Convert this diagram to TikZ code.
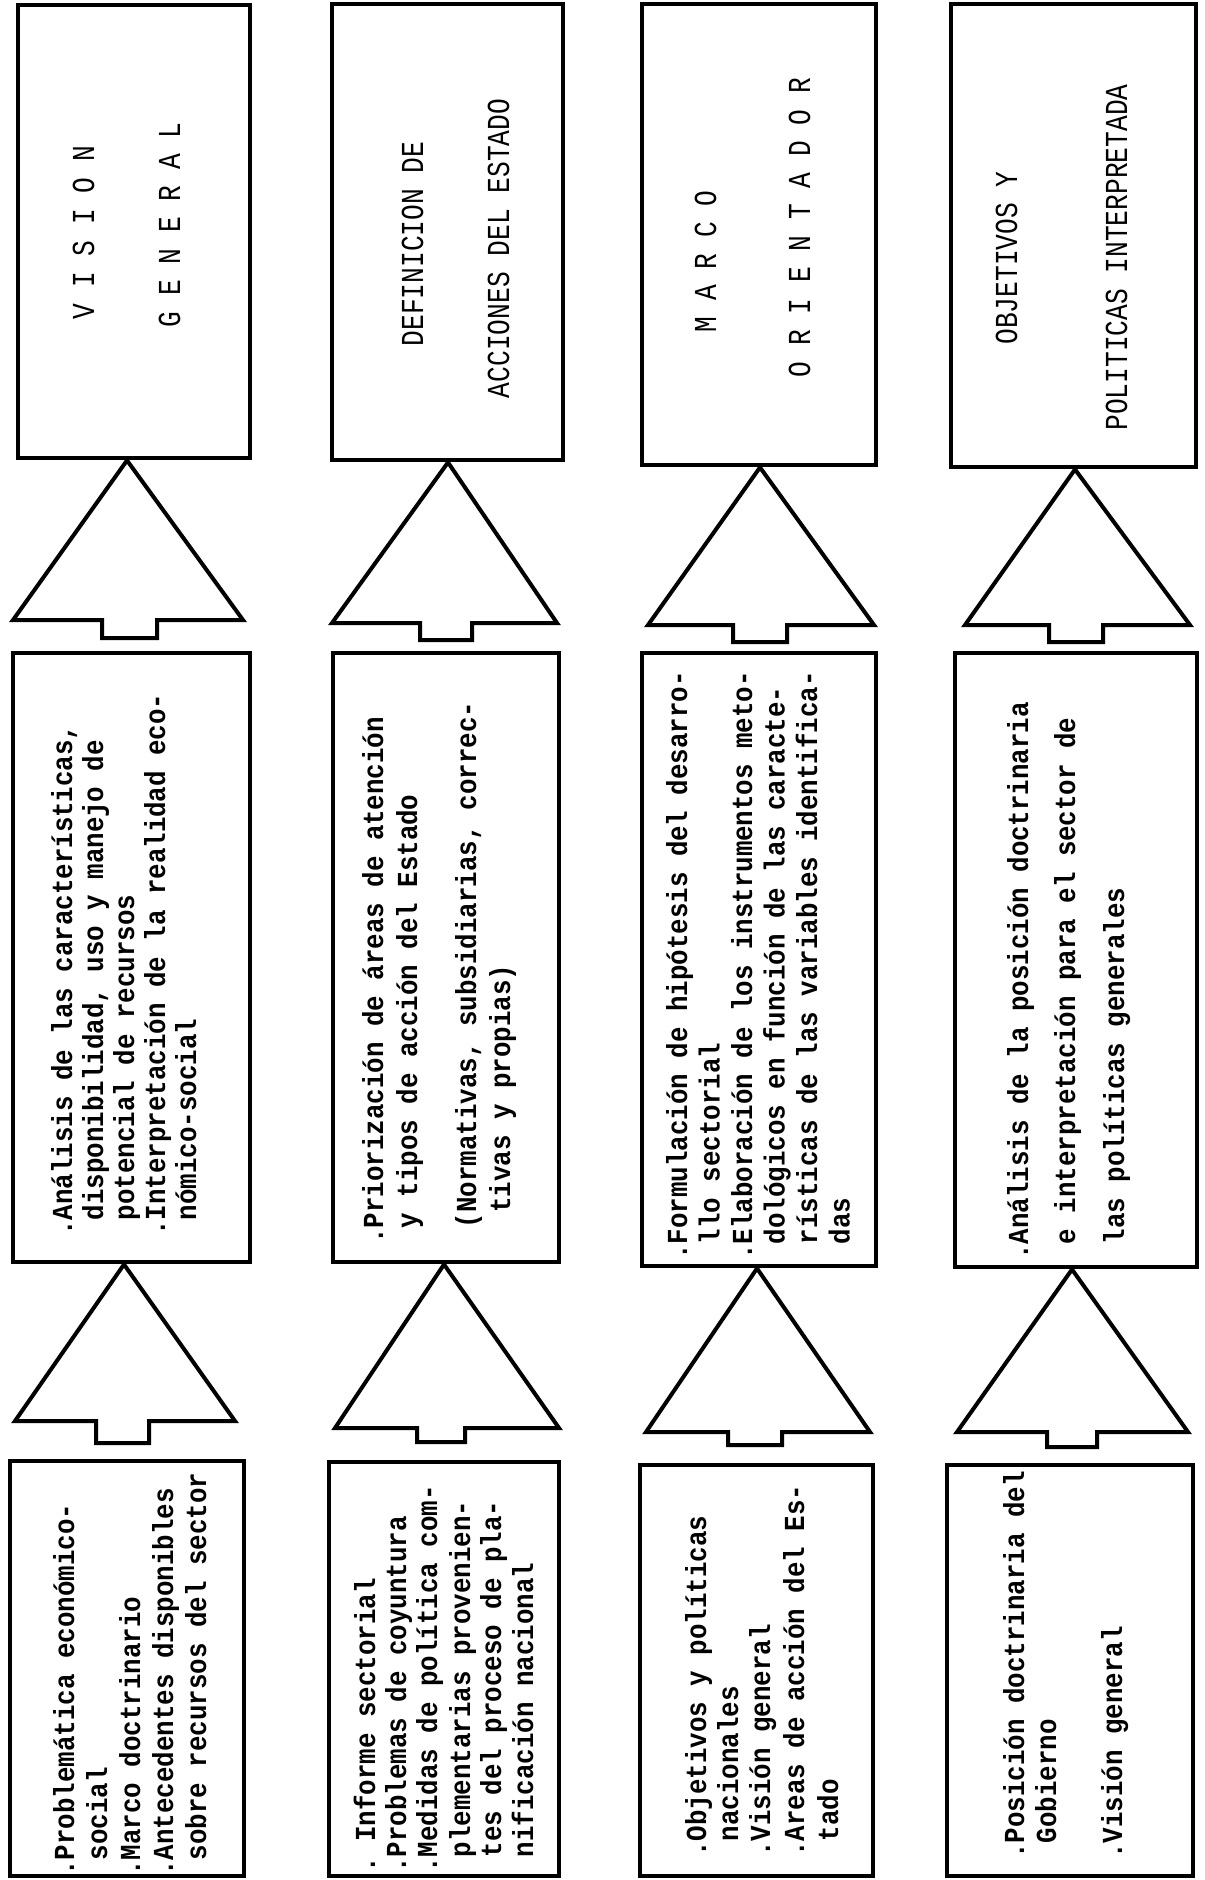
\documentclass[tikz,border=0pt]{standalone}
\usepackage{fontspec}
\usetikzlibrary{fit}
\newfontfamily\bodyfont[FakeStretch=0.89]{Liberation Mono}
\newfontfamily\titlefont[FakeStretch=0.82]{Liberation Mono}
\tikzset{
  boxnode/.style={draw, line width=2.4pt, inner sep=0pt},
  blockarrow/.style={draw, line width=2pt, line join=miter},
  bodytxt/.style={rotate=90, anchor=base west, inner sep=0pt, font=\bodyfont\bfseries\fontsize{14.5}{17}\selectfont},
  titletxt/.style={rotate=90, anchor=base, inner sep=0pt, font=\titlefont\fontsize{16}{19}\selectfont},
}
\newcommand\ind{\phantom{x}}
\newcommand\tl[4]{\node[bodytxt] (#1) at (#2,#3) {#4};}
% #1 apex x, #2 box above, #3 left, #4 right, #5 base y, #6 notch left, #7 notch right, #8 notch bottom
\newcommand\blockup[8]{\draw[blockarrow] (#1,0 |- #2.south) -- (#4,#5) -- (#7,#5) -- (#7,#8) -- (#6,#8) -- (#6,#5) -- (#3,#5) -- cycle;}
\begin{document}
\begin{tikzpicture}[x=0.5pt,y=-0.5pt]
\useasboundingbox (0,0) rectangle (1205,1880);
\fill[white] (0,0) rectangle (1205,1880);

% ---------- boxes ----------
\node[boxnode, fit={(18,5) (250,458)}] (A1) {};
\node[boxnode, fit={(13,653) (250,1262)}] (A2) {};
\node[boxnode, fit={(10,1461) (244,1876)}] (A3) {};

\node[boxnode, fit={(332,4) (563,460)}] (B1) {};
\node[boxnode, fit={(333,653) (559,1262)}] (B2) {};
\node[boxnode, fit={(329,1462) (559,1876)}] (B3) {};

\node[boxnode, fit={(642,4) (876,465)}] (C1) {};
\node[boxnode, fit={(642,653) (876,1266)}] (C2) {};
\node[boxnode, fit={(640,1465) (873,1876)}] (C3) {};

\node[boxnode, fit={(951,4) (1196,467)}] (D1) {};
\node[boxnode, fit={(955,653) (1197,1267)}] (D2) {};
\node[boxnode, fit={(947,1465) (1193,1876)}] (D3) {};

% ---------- block arrows ----------
\blockup{127}{A1}{13}{243}{620}{102}{157}{638}
\blockup{124}{A2}{15}{235}{1421}{96}{149}{1443}
\blockup{448}{B1}{332}{557}{623}{420}{472}{640}
\blockup{444}{B2}{335}{559}{1428}{417}{465}{1442}
\blockup{760}{C1}{648}{874}{625}{733}{787}{642}
\blockup{757}{C2}{646}{870}{1432}{728}{782}{1445}
\blockup{1075}{D1}{965}{1190}{625}{1049}{1103}{642}
\blockup{1072}{D2}{957}{1188}{1432}{1047}{1097}{1447}

% ---------- titles ----------
\node[titletxt] (ta1) at (94,232.5) {V I S I O N};
\node[titletxt] (ta2) at (180,225) {G E N E R A L};
\node[titletxt] (tb1) at (423,244) {DEFINICION DE};
\node[titletxt] (tb2) at (509,248.5) {ACCIONES DEL ESTADO};
\node[titletxt] (tc1) at (716,261.5) {M A R C O};
\node[titletxt] (tc2) at (810,227.5) {O R I E N T A D O R};
\node[titletxt] (td1) at (1017,258) {OBJETIVOS Y};
\node[titletxt] (td2) at (1127,257.5) {POLITICAS INTERPRETADA};

% ---------- middle boxes ----------
\tl{ma1}{72}{1236}{.Análisis de las características,}
\tl{ma2}{103}{1236}{\ind disponibilidad, uso y manejo de}
\tl{ma3}{134}{1236}{\ind potencial de recursos}
\tl{ma4}{165}{1236}{.Interpretación de la realidad eco-}
\tl{ma5}{196}{1236}{\ind nómico-social}

\tl{mb1}{383}{1244}{.Priorización de áreas de atención}
\tl{mb2}{417}{1244}{\ind y tipos de acción del Estado}
\tl{mb3}{476}{1244}{\ind (Normativas, subsidiarias, correc-}
\tl{mb4}{510}{1244}{\ind\ind tivas y propias)}

\tl{mc1}{687}{1260}{.Formulación de hipótesis del desarro-}
\tl{mc2}{719.5}{1260}{\ind llo sectorial}
\tl{mc3}{752}{1260}{.Elaboración de los instrumentos meto-}
\tl{mc4}{784.5}{1260}{\ind dológicos en función de las caracte-}
\tl{mc5}{817}{1260}{\ind rísticas de las variables identifica-}
\tl{mc6}{849.5}{1260}{\ind das}

\tl{md1}{1028}{1260}{.Análisis de la posición doctrinaria}
\tl{md2}{1075}{1260}{\ind e interpretación para el sector de}
\tl{md3}{1124}{1260}{\ind las políticas generales}

% ---------- bottom boxes ----------
\tl{ba1}{74}{1876}{.Problemática económico-}
\tl{ba2}{107}{1876}{\ind social}
\tl{ba3}{140}{1876}{.Marco doctrinario}
\tl{ba4}{173}{1876}{.Antecedentes disponibles}
\tl{ba5}{206}{1876}{\ind sobre recursos del sector}

\tl{bb1}{375}{1873}{.\ Informe sectorial}
\tl{bb2}{406}{1873}{.Problemas de coyuntura}
\tl{bb3}{437}{1873}{.Medidas de política com-}
\tl{bb4}{470}{1873}{\ind plementarias provenien-}
\tl{bb5}{501}{1873}{\ind tes del proceso de pla-}
\tl{bb6}{533}{1873}{\ind nificación nacional}

\tl{bc1}{706}{1857}{.Objetivos y políticas}
\tl{bc2}{738}{1857}{\ind nacionales}
\tl{bc3}{770}{1857}{.Visión general}
\tl{bc4}{804}{1857}{.Areas de acción del Es-}
\tl{bc5}{838}{1857}{\ind tado}

\tl{bd1}{1024}{1859}{.Posición doctrinaria del}
\tl{bd2}{1056}{1859}{\ind Gobierno}
\tl{bd3}{1122}{1859}{.Visión general}
\end{tikzpicture}
\end{document}
